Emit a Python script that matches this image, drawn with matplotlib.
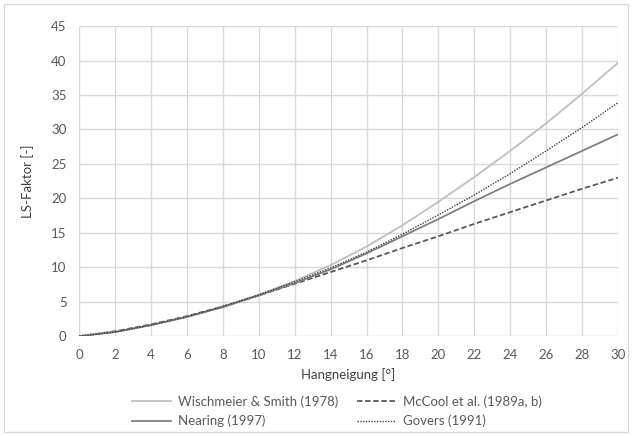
import matplotlib.pyplot as plt
from matplotlib.patches import Rectangle

plt.rcParams['font.family'] = ['Lato', 'DejaVu Sans']

# slope angle in degrees
hangneigung = [0, 2, 4, 6, 8, 10, 12, 14, 16, 18, 20, 22, 24, 26, 28, 30]

# LS-factor
wischmeier = [0, 0.6, 1.6, 2.8, 4.3, 6.0, 8.0, 10.3, 13.0, 16.1, 19.5, 23.1, 26.9, 30.9, 35.2, 39.7]
mccool = [0, 0.7, 1.7, 2.9, 4.3, 5.9, 7.6, 9.3, 11.0, 12.8, 14.5, 16.3, 18.0, 19.7, 21.4, 23.0]
nearing = [0, 0.6, 1.6, 2.8, 4.2, 5.9, 7.7, 9.7, 12.0, 14.5, 17.0, 19.6, 22.1, 24.5, 26.9, 29.3]
govers = [0, 0.6, 1.6, 2.8, 4.3, 6.0, 7.9, 9.9, 12.2, 14.8, 17.6, 20.5, 23.6, 26.9, 30.3, 33.9]

labels = ['Wischmeier & Smith (1978)', 'McCool et al. (1989a, b)',
          'Nearing (1997)', 'Govers (1991)']

fig = plt.figure(figsize=(6.32, 4.36), dpi=100)
ax = fig.add_axes([0.125, 0.229, 0.853, 0.711])

##########
# curves

l1, = ax.plot(hangneigung, wischmeier, color='#bfbfbf', lw=1.3)
l2, = ax.plot(hangneigung, mccool, color='#595959', lw=1.3, ls=(0, (3, 1.5)))
l3, = ax.plot(hangneigung, nearing, color='#808080', lw=1.3)
l4, = ax.plot(hangneigung, govers, color='#404040', lw=1.0, ls=(0, (1, 1)))

##########
# axes / grid

ax.set_xlim(0, 30)
ax.set_ylim(0, 45)
ax.set_xticks(range(0, 31, 2))
ax.set_yticks(range(0, 46, 5))
ax.grid(True, color='#d9d9d9', lw=1.0)
ax.set_axisbelow(True)
for s in ax.spines.values():
    s.set_visible(False)
ax.tick_params(length=0, labelsize=9.5, colors='#595959', pad=9)

ax.set_xlabel('Hangneigung [°]', fontsize=9.5, color='#404040', labelpad=5)
ax.set_ylabel('LS-Faktor [-]', fontsize=9.5, color='#404040', labelpad=12)

##########
# legend (rows: Wischmeier | McCool, Nearing | Govers)

fig.legend([l1, l3, l2, l4], [labels[0], labels[2], labels[1], labels[3]],
           loc='upper center', bbox_to_anchor=(0.533, 0.12), ncol=2, frameon=False,
           fontsize=9.5, labelcolor='#595959', handlelength=3.0, handletextpad=0.5,
           columnspacing=1.4, labelspacing=0.5)

# outer chart border
fig.patches.append(Rectangle((0.006, 0.009), 0.988, 0.982, transform=fig.transFigure,
                             fill=False, edgecolor='#d9d9d9', lw=1.0))

fig.savefig('out.png', dpi=100)
